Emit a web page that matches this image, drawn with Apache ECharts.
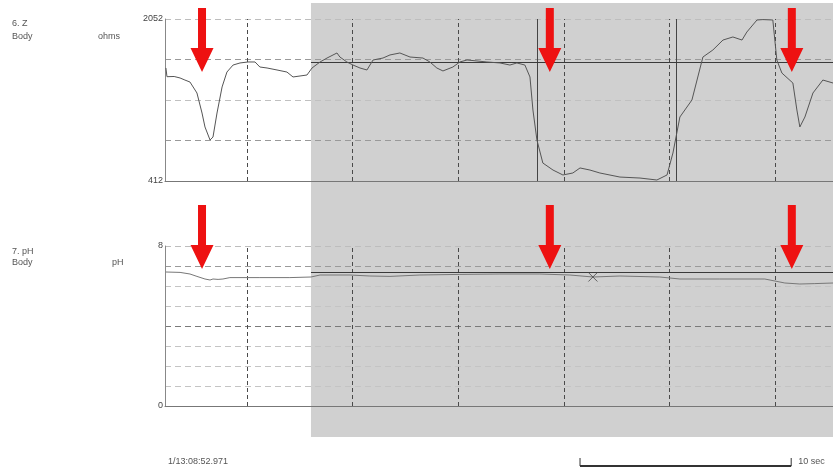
<!DOCTYPE html>
<html>
<head>
<meta charset="utf-8">
<script src="https://cdn.jsdelivr.net/npm/echarts@6/dist/echarts.min.js"></script>
<style>
  html, body { margin: 0; padding: 0; background: #ffffff; }
  #c { width: 833px; height: 472px; }
</style>
</head>
<body>
<div id="c"></div>
<script>
// ---- Channel 6: impedance (ohms), time in seconds from start of window ----
const impTime = [1.16, 1.21, 1.55, 1.83, 2.06, 2.30, 2.63, 2.87, 3.01, 3.25, 3.39, 3.58, 3.82, 4.05, 4.34, 4.67,
  5.05, 5.38, 5.61, 5.95, 6.42, 6.89, 7.18, 7.51, 7.84, 8.08, 8.46, 8.79, 9.26, 9.40, 9.73, 10.02, 10.35, 10.68,
  10.97, 11.44, 11.77, 12.24, 12.72, 13.33, 13.66, 13.99, 14.28, 14.75, 15.08, 15.42, 15.89, 16.36, 16.98,
  17.45, 17.78, 18.16, 18.40, 18.54, 18.73, 19.01, 19.49, 19.96, 20.43, 20.77, 21.24, 21.71, 22.66, 23.61,
  24.41, 24.89, 25.17, 25.50, 26.07, 26.59, 27.06, 27.54, 28.01, 28.44, 28.67, 29.15, 29.43, 29.90, 30.09,
  30.33, 30.85, 31.04, 31.18, 31.42, 31.80, 32.27, 32.75];
const impOhms = [1556, 1468, 1470, 1455, 1434, 1414, 1303, 1100, 959, 827, 857, 1100, 1364, 1515, 1586, 1607,
  1617, 1617, 1566, 1556, 1536, 1515, 1465, 1475, 1485, 1556, 1617, 1657, 1708, 1667, 1617, 1586, 1556, 1536,
  1637, 1657, 1688, 1708, 1667, 1657, 1617, 1556, 1526, 1566, 1617, 1637, 1627, 1617, 1607,
  1586, 1607, 1586, 1465, 1131, 827, 594, 523, 473, 493, 544, 523, 493, 452, 442,
  422, 473, 695, 1060, 1232, 1667, 1738, 1839, 1870, 1839, 1920, 2042, 2046, 2042, 1637,
  1505, 1404, 1131, 959, 1060, 1303, 1434, 1404];

// ---- Channel 7: pH ----
const phTime = [1.16, 1.83, 2.30, 2.63, 3.01, 3.25, 3.39, 3.63, 3.86, 4.19, 5.61, 7.03, 8.03, 8.46, 9.88, 10.82,
  11.77, 13.19, 15.08, 16.98, 18.87, 20.29, 21.38, 22.66, 24.55, 25.50, 27.39, 29.52, 30.47, 31.18, 31.89, 32.75];
const phValue = [6.70, 6.68, 6.60, 6.48, 6.35, 6.30, 6.35, 6.33, 6.35, 6.42, 6.42, 6.42, 6.45, 6.55, 6.55, 6.50,
  6.48, 6.55, 6.58, 6.60, 6.60, 6.55, 6.45, 6.50, 6.45, 6.35, 6.35, 6.35, 6.15, 6.10, 6.12, 6.15];

// ---- axis ticks and annotations ----
const timeMin = 1.117, timeMax = 32.75;
const timeGrid = [5, 10, 15, 20, 25, 30];          // 5 s divisions
const impTickLabels = [412, 2052];
const phTickLabels = [0, 8];
const impThreshold = 1610;
const phThreshold = 6.7;
const analysisStart = 8.03;                          // start of shaded analysis window
const eventTimes = [18.73, 25.31];                   // bolus markers on impedance channel
const arrowTimes = [2.87, 19.34, 30.80];
const markerPoint = [21.38, 6.45];
const startStamp = '1/13:08:52.971';
const scaleBarStart = 20.77, scaleBarSeconds = 10;

const FONT = 'Liberation Sans';
const pair = (xs, ys) => xs.map((x, i) => [x, ys[i]]);

const vGrid = timeGrid.map(t => ({ xAxis: t, lineStyle: { type: [4, 3], color: '#4a4a4a', width: 1 } }));

const chart = echarts.init(document.getElementById('c'), null, { renderer: 'canvas' });

const xAxisBase = {
  type: 'value', min: timeMin, max: timeMax,
  axisLine: { show: true, lineStyle: { color: '#777', width: 1 } },
  axisTick: { show: false }, axisLabel: { show: false }, splitLine: { show: false }
};

chart.setOption({
  animation: false,
  backgroundColor: '#ffffff',
  grid: [
    { left: 165, right: 0, top: 19, height: 162 },
    { left: 165, right: 0, top: 246, height: 160 }
  ],
  xAxis: [
    Object.assign({ gridIndex: 0 }, xAxisBase),
    Object.assign({ gridIndex: 1 }, xAxisBase)
  ],
  yAxis: [
    {
      gridIndex: 0, type: 'value', min: 412, max: 2052, interval: 410,
      axisLine: { show: true, lineStyle: { color: '#888' } },
      axisTick: { show: false },
      axisLabel: {
        margin: 2, fontFamily: FONT, fontSize: 9, color: '#444',
        formatter: v => impTickLabels.includes(v) ? String(v) : ''
      },
      splitLine: { show: true, lineStyle: { type: [6, 4], width: 1, color: ['#999', '#999', '#c0c0c0', '#999', '#bdbdbd'] } }
    },
    {
      gridIndex: 1, type: 'value', min: 0, max: 8, interval: 1,
      axisLine: { show: true, lineStyle: { color: '#888' } },
      axisTick: { show: false },
      axisLabel: {
        margin: 2, fontFamily: FONT, fontSize: 9, color: '#444',
        formatter: v => phTickLabels.includes(v) ? String(v) : ''
      },
      splitLine: { show: true, lineStyle: { type: [6, 4], width: 1,
        color: ['#999', '#c4c4c4', '#c4c4c4', '#c4c4c4', '#7a7a7a', '#c4c4c4', '#c4c4c4', '#9a9a9a', '#bdbdbd'] } }
    }
  ],
  series: [
    {
      name: 'Z', type: 'line', xAxisIndex: 0, yAxisIndex: 0,
      data: pair(impTime, impOhms), showSymbol: false, z: 5,
      lineStyle: { color: '#555', width: 1 },
      markLine: {
        silent: true, symbol: 'none', label: { show: false },
        data: vGrid
          .concat(eventTimes.map(t => ({ xAxis: t, lineStyle: { type: 'solid', color: '#444', width: 1 } })))
          .concat([[{ coord: [analysisStart, impThreshold], lineStyle: { type: 'solid', color: '#3a3a3a', width: 1.2 } },
                    { coord: [timeMax, impThreshold] }]])
      }
    },
    {
      name: 'pH', type: 'line', xAxisIndex: 1, yAxisIndex: 1,
      data: pair(phTime, phValue), showSymbol: false, z: 5,
      lineStyle: { color: '#777', width: 1 },
      markLine: {
        silent: true, symbol: 'none', label: { show: false },
        data: vGrid
          .concat([[{ coord: [analysisStart, phThreshold], lineStyle: { type: 'solid', color: '#3a3a3a', width: 1.2 } },
                    { coord: [timeMax, phThreshold] }]])
      }
    },
    {
      name: 'marker', type: 'scatter', xAxisIndex: 1, yAxisIndex: 1,
      data: [markerPoint], symbol: 'path://M0,0L10,10M10,0L0,10', symbolSize: 9, z: 6,
      itemStyle: { color: 'none', borderColor: '#444', borderWidth: 1 }
    }
  ]
});

// Overlay: shaded window, channel captions, arrows, time stamp and scale bar
function px(t, grid) { return chart.convertToPixel({ xAxisIndex: grid || 0 }, t); }

const shadeX = px(analysisStart);
const graphics = [
  { type: 'rect', z: -10, silent: true, shape: { x: shadeX, y: 3, width: 833 - shadeX, height: 434 },
    style: { fill: '#d0d0d0' } }
];

const txt = (x, y, s, align) => ({
  type: 'text', x: x, y: y, z: 20, silent: true,
  style: { text: s, fontFamily: FONT, fontSize: 9, fill: '#555', align: align || 'left', verticalAlign: 'middle' }
});
graphics.push(txt(12, 24, '6. Z'), txt(12, 37, 'Body'), txt(98, 37, 'ohms'));
graphics.push(txt(12, 252, '7. pH'), txt(12, 263, 'Body'), txt(112, 263, 'pH'));
graphics.push(txt(168, 462, startStamp));

function arrow(cx, top, tip) {
  const headTop = tip - 24;
  return {
    type: 'polygon', z: 30, silent: true,
    shape: { points: [[cx - 4, top], [cx + 4, top], [cx + 4, headTop], [cx + 11.5, headTop], [cx, tip],
                      [cx - 11.5, headTop], [cx - 4, headTop]] },
    style: { fill: '#ee1111' }
  };
}
arrowTimes.forEach(t => {
  const cx = px(t);
  graphics.push(arrow(cx, 8, 72));
  graphics.push(arrow(cx, 205, 269));
});

const sb0 = px(scaleBarStart), sb1 = px(scaleBarStart + scaleBarSeconds);
graphics.push(
  { type: 'line', z: 20, shape: { x1: sb0, y1: 466, x2: sb1, y2: 466 }, style: { stroke: '#333', lineWidth: 2 } },
  { type: 'line', z: 20, shape: { x1: sb0, y1: 458, x2: sb0, y2: 466 }, style: { stroke: '#333', lineWidth: 1 } },
  { type: 'line', z: 20, shape: { x1: sb1, y1: 458, x2: sb1, y2: 466 }, style: { stroke: '#333', lineWidth: 1 } },
  txt(sb1 + 7, 462, scaleBarSeconds + ' sec')
);

chart.setOption({ graphic: graphics });
</script>
</body>
</html>
